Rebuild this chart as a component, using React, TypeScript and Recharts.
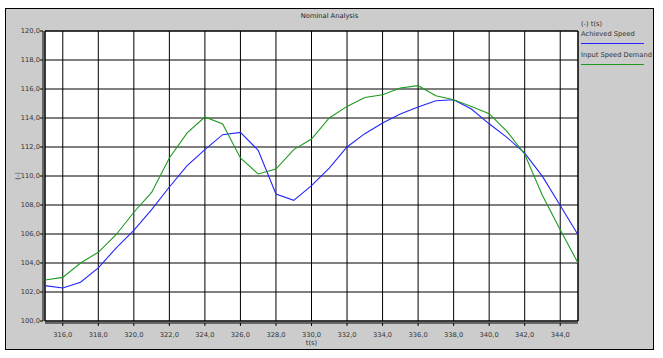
import React from 'react';
import { LineChart, Line, XAxis, YAxis, CartesianGrid, ReferenceArea } from 'recharts';

const FONT = '"DejaVu Sans", Verdana, sans-serif';

// time in seconds, one sample per second
const time = [
  315, 316, 317, 318, 319, 320, 321, 322, 323, 324, 325, 326, 327, 328, 329, 330,
  331, 332, 333, 334, 335, 336, 337, 338, 339, 340, 341, 342, 343, 344, 345,
];

const achievedSpeed = [
  102.44, 102.28, 102.67, 103.66, 105.03, 106.25, 107.68, 109.24, 110.71, 111.82, 112.85,
  113.01, 111.77, 108.76, 108.32, 109.33, 110.55, 112.0, 112.92, 113.65, 114.27, 114.76,
  115.19, 115.26, 114.62, 113.6, 112.66, 111.58, 109.97, 107.97, 105.95,
];

const inputSpeedDemand = [
  102.83, 103.01, 104.0, 104.74, 105.95, 107.5, 108.87, 111.24, 112.97, 114.07, 113.59,
  111.24, 110.14, 110.48, 111.82, 112.55, 114.0, 114.8, 115.42, 115.6, 116.07, 116.23,
  115.54, 115.26, 114.8, 114.3, 113.08, 111.5, 108.66, 106.3, 104.0,
];

const xTicks = [316, 318, 320, 322, 324, 326, 328, 330, 332, 334, 336, 338, 340, 342, 344];
const yTicks = [100, 102, 104, 106, 108, 110, 112, 114, 116, 118, 120];

const series = [
  { key: 'achieved', name: 'Achieved Speed', color: '#2424ff' },
  { key: 'demand', name: 'Input Speed Demand', color: '#1f9a1f' },
];

const data = time.map((t, i) => ({ t, achieved: achievedSpeed[i], demand: inputSpeedDemand[i] }));

const fmt = (v: number) => v.toFixed(1).replace('.', ',');

// legend sits in the grey strip right of the plot
const LegendBox = () => (
  <div style={{ position: 'absolute', left: 581, top: 19, width: 72, fontFamily: FONT, fontSize: 6.7, color: '#333' }}>
    <div style={{ height: 10, lineHeight: '10px', whiteSpace: 'nowrap' }}>(-) t(s)</div>
    {series.map((s) => (
      <div key={s.key}>
        <div style={{ height: 10, lineHeight: '10px', whiteSpace: 'nowrap' }}>{s.name}</div>
        <div style={{ width: 63, marginTop: 4, marginBottom: 6, borderTop: `1px solid ${s.color}` }} />
      </div>
    ))}
  </div>
);

const YLabel = ({ viewBox }: any) => {
  const cx = 18;
  const cy = viewBox.y + viewBox.height / 2;
  return (
    <text x={cx} y={cy} transform={`rotate(-90 ${cx} ${cy})`} textAnchor="middle" dominantBaseline="central"
      fontFamily={FONT} fontSize={6.7} fill="#333">(-)</text>
  );
};

const XLabel = ({ viewBox }: any) => (
  <text x={viewBox.x + viewBox.width / 2} y={343} textAnchor="middle" dominantBaseline="central"
    fontFamily={FONT} fontSize={6.7} fill="#333">t(s)</text>
);

export default function App() {
  return (
    <div style={{ position: 'absolute', left: 0, top: 0, width: 663, height: 358 }}>
      <div style={{ position: 'absolute', left: 5, top: 8, width: 647, height: 340, background: '#cccccc', border: '1px solid #000' }} />
      <div style={{ position: 'absolute', left: 5, top: 11, width: 649, textAlign: 'center', fontFamily: FONT, fontSize: 6.7, lineHeight: '10px', color: '#222' }}>
        Nominal Analysis
      </div>
      <LegendBox />
      <LineChart style={{ position: 'absolute', left: 0, top: 0 }} width={663} height={358} data={data}
        margin={{ top: 31, right: 85, bottom: 7, left: 1 }}>
        <CartesianGrid stroke="#000" fill="#fff" fillOpacity={1} />
        <ReferenceArea x1={315} x2={345} y1={100} y2={120} fill="none" stroke="#000" />
        <XAxis type="number" dataKey="t" domain={[315, 345]} ticks={xTicks} tickFormatter={fmt}
          height={30} tickSize={3} tickMargin={8} interval={0}
          axisLine={{ stroke: '#000', transform: 'translate(0,2)' }}
          tickLine={{ stroke: '#000', transform: 'translate(0,2)' }}
          tick={{ fill: '#333', fontSize: 6.7, fontFamily: FONT }}
          label={<XLabel />} />
        <YAxis type="number" domain={[100, 120]} ticks={yTicks} tickFormatter={fmt}
          width={44} tickSize={3} tickMargin={2} interval={0}
          axisLine={{ stroke: '#000', transform: 'translate(-2,0)' }}
          tickLine={{ stroke: '#000', transform: 'translate(-2,0)' }}
          tick={{ fill: '#333', fontSize: 6.7, fontFamily: FONT }}
          label={<YLabel />} />
        {series.map((s) => (
          <Line key={s.key} type="linear" dataKey={s.key} name={s.name} stroke={s.color} strokeWidth={1.1}
            dot={false} activeDot={false} isAnimationActive={false} />
        ))}
      </LineChart>
    </div>
  );
}
